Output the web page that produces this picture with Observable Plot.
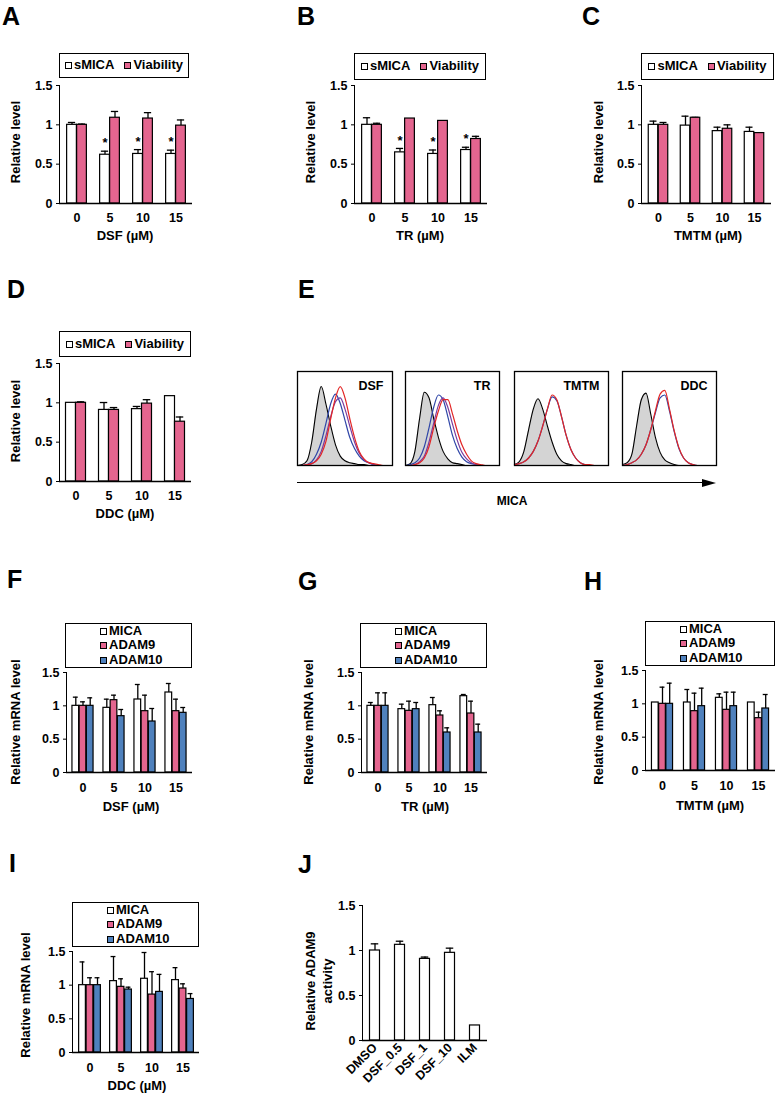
<!DOCTYPE html>
<html><head><meta charset="utf-8">
<script src="https://cdn.jsdelivr.net/npm/d3@7"></script>
<script src="https://cdn.jsdelivr.net/npm/@observablehq/plot@0.6"></script>
<style>
body{margin:0;background:#fff;}
#root{position:relative;width:777px;height:1095px;overflow:hidden;font-family:"Liberation Sans",Arial,sans-serif;font-weight:bold;color:#000;background:#fff;}
.t{position:absolute;white-space:nowrap;line-height:1;}
.leg{position:absolute;border:1.3px solid #000;box-sizing:border-box;background:#fff;font-size:13px;display:flex;}
.item{display:flex;align-items:center;line-height:14.5px;}
.sw{display:inline-block;width:7px;height:7px;border:1.3px solid #000;box-sizing:border-box;margin-right:2px;}
</style></head>
<body><div id="root"></div>
<script>
// ---------- data ----------
const doses = ["0","5","10","15"];
const pink = "#e4658f", blue = "#4f81bd";

const A_sMICA = [1.00, 0.62, 0.63, 0.63], A_sMICA_err = [0.03, 0.045, 0.055, 0.048];
const A_viab  = [1.00, 1.09, 1.08, 0.99], A_viab_err  = [0.01, 0.08, 0.075, 0.072];
const A_star  = [false, true, true, true];

const B_sMICA = [1.00, 0.65, 0.63, 0.68], B_sMICA_err = [0.09, 0.05, 0.05, 0.035];
const B_viab  = [1.00, 1.08, 1.05, 0.82], B_viab_err  = [0.02, 0, 0, 0.034];
const B_star  = [false, true, true, true];

const C_sMICA = [1.00, 0.99, 0.92, 0.91], C_sMICA_err = [0.047, 0.12, 0.05, 0.06];
const C_viab  = [1.00, 1.09, 0.95, 0.895], C_viab_err = [0.03, 0.005, 0.05, 0];

const D_sMICA = [1.00, 0.91, 0.92, 1.085], D_sMICA_err = [0, 0.094, 0.034, 0];
const D_viab  = [1.00, 0.91, 0.99, 0.76], D_viab_err  = [0.013, 0.03, 0.05, 0.06];

const F_MICA = [1.00, 0.97, 1.095, 1.20], F_MICA_err = [0.13, 0.13, 0.225, 0.135];
const F_A9   = [1.00, 1.085, 0.92, 0.92], F_A9_err   = [0.06, 0.075, 0.24, 0.18];
const F_A10  = [1.00, 0.845, 0.765, 0.895], F_A10_err = [0.12, 0.10, 0.195, 0.08];

const G_MICA = [1.00, 0.95, 1.01, 1.145], G_MICA_err = [0.05, 0.075, 0.115, 0.025];
const G_A9   = [1.00, 0.925, 0.855, 0.885], G_A9_err  = [0.195, 0.145, 0.07, 0.185];
const G_A10  = [1.00, 0.95, 0.60, 0.60], G_A10_err    = [0.195, 0.10, 0.07, 0.125];

const H_MICA = [1.02, 1.02, 1.09, 1.02], H_MICA_err = [0, 0.195, 0.06, 0];
const H_A9   = [1.00, 0.89, 0.91, 0.785], H_A9_err  = [0.25, 0.27, 0.265, 0.09];
const H_A10  = [1.00, 0.965, 0.965, 0.93], H_A10_err = [0.31, 0.27, 0.21, 0.21];

const I_MICA = [1.00, 1.06, 1.095, 1.075], I_MICA_err = [0.345, 0.365, 0.39, 0.185];
const I_A9   = [1.00, 0.975, 0.86, 0.95], I_A9_err   = [0.11, 0.12, 0.34, 0.07];
const I_A10  = [1.00, 0.935, 0.90, 0.795], I_A10_err = [0.11, 0.035, 0.26, 0.08];

const J_cats = ["DMSO", "DSF_0.5", "DSF_1", "DSF_10", "ILM"];
const J_vals = [1.00, 1.063, 0.907, 0.974, 0.167];
const J_err  = [0.074, 0.04, 0.02, 0.052, 0];

// flow cytometry histograms (relative counts at MICA intensity bins)
const histX = [0,5,10,15,20,25,30,35,40,45,50,55,60,65,70,75,80,85,90,95,100];
const DSF_ctrl   = [0,0.01,0.05,0.25,0.6,0.84,0.65,0.42,0.22,0.1,0.05,0.03,0.02,0.01,0.01,0,0,0,0,0,0];
const DSF_blue   = [0,0,0.01,0.04,0.12,0.25,0.45,0.66,0.76,0.66,0.48,0.3,0.18,0.1,0.05,0.03,0.01,0,0,0,0];
const DSF_purple = [0,0,0.01,0.02,0.06,0.15,0.32,0.52,0.68,0.72,0.6,0.42,0.25,0.13,0.06,0.03,0.01,0,0,0,0];
const DSF_red    = [0,0,0.01,0.02,0.05,0.12,0.26,0.5,0.72,0.84,0.72,0.5,0.3,0.15,0.07,0.03,0.02,0.01,0,0,0];
const TR_ctrl    = [0,0.02,0.15,0.5,0.78,0.72,0.5,0.3,0.15,0.07,0.03,0.02,0.01,0,0,0,0,0,0,0,0];
const TR_blue    = [0,0.01,0.03,0.08,0.2,0.4,0.62,0.75,0.7,0.52,0.32,0.18,0.09,0.04,0.02,0.01,0,0,0,0,0];
const TR_purple  = [0,0,0.01,0.04,0.1,0.25,0.45,0.64,0.72,0.62,0.44,0.27,0.14,0.07,0.03,0.01,0,0,0,0,0];
const TR_red     = [0,0,0.01,0.03,0.08,0.2,0.4,0.58,0.7,0.7,0.55,0.37,0.22,0.12,0.05,0.02,0.01,0,0,0,0];
const TMTM_ctrl  = [0.01,0.04,0.15,0.38,0.6,0.71,0.6,0.42,0.25,0.12,0.05,0.02,0.01,0,0,0,0,0,0,0,0];
const TMTM_blue  = [0.01,0.02,0.04,0.08,0.15,0.26,0.42,0.6,0.73,0.69,0.52,0.32,0.17,0.08,0.03,0.01,0,0,0,0,0];
const TMTM_red   = [0.01,0.02,0.04,0.08,0.15,0.26,0.42,0.6,0.75,0.7,0.52,0.32,0.17,0.08,0.03,0.01,0.01,0,0,0,0];
const DDC_ctrl   = [0.01,0.03,0.12,0.42,0.7,0.77,0.55,0.3,0.14,0.06,0.03,0.01,0,0,0,0,0,0,0,0,0];
const DDC_blue   = [0,0.01,0.03,0.06,0.12,0.22,0.38,0.56,0.72,0.75,0.58,0.36,0.18,0.08,0.03,0.01,0,0,0,0,0];
const DDC_red    = [0,0.01,0.03,0.06,0.12,0.22,0.38,0.58,0.76,0.8,0.6,0.37,0.19,0.08,0.03,0.01,0,0,0,0,0];

// ---------- helpers ----------
const root = document.getElementById("root");
const FONT = "'Liberation Sans', Arial, sans-serif";
const baseStyle = {fontFamily: FONT, fontSize: "12.5px", fontWeight: "bold", color: "black", background: "transparent", overflow: "visible"};

function place(el, left, top) {
  el.style.position = "absolute"; el.style.left = left + "px"; el.style.top = top + "px";
  root.append(el);
}
function text(str, x, baseline, size, anchor) {
  const d = document.createElement("div"); d.className = "t"; d.textContent = str;
  d.style.fontSize = size + "px"; d.style.left = x + "px"; d.style.top = (baseline - 0.8465 * size) + "px";
  if (anchor === "middle") d.style.transform = "translateX(-50%)";
  if (anchor === "end") d.style.transform = "translateX(-100%)";
  root.append(d);
}
function vtext(str, cx, cy, size) {
  const d = document.createElement("div"); d.className = "t"; d.textContent = str;
  d.style.fontSize = size + "px"; d.style.left = cx + "px"; d.style.top = cy + "px";
  d.style.transform = "translate(-50%,-50%) rotate(-90deg)";
  root.append(d);
}
function legend(x0, y0, x1, y1, items, column, padLeft) {
  const d = document.createElement("div"); d.className = "leg";
  d.style.left = x0 + "px"; d.style.top = y0 + "px"; d.style.width = (x1 - x0) + "px"; d.style.height = (y1 - y0) + "px";
  if (column) { d.style.flexDirection = "column"; d.style.justifyContent = "center"; d.style.paddingLeft = padLeft + "px"; }
  else { d.style.justifyContent = "center"; d.style.alignItems = "center"; d.style.gap = "10px"; }
  for (const it of items) {
    const r = document.createElement("div"); r.className = "item";
    const s = document.createElement("span"); s.className = "sw"; s.style.background = it.color;
    r.append(s, document.createTextNode(it.label));
    d.append(r);
  }
  root.append(d);
}

function barPanel(p) {
  const mL = 42, mR = 8, mT = 8, mB = p.mB || 26;
  const W = p.x1 - p.x0, H = p.y0 - p.y15;
  const bw = W / p.cats.length;
  const cap = p.barW * 0.75;
  const marks = [];
  for (const s of p.series) {
    const rows = p.cats.map((c, i) => ({cat: c, v: s.values[i], e: s.errs[i], top: s.values[i] + s.errs[i], star: s.stars ? s.stars[i] : false}));
    const c = s.off + p.barW / 2;
    const withErr = rows.filter(d => d.e > 0);
    marks.push(Plot.ruleX(withErr, {x: "cat", y1: "v", y2: "top", dx: c, stroke: "black", strokeWidth: 1.3}));
    marks.push(Plot.tickY(withErr, {x: "cat", y: "top", insetLeft: bw / 2 + c - cap / 2, insetRight: bw / 2 - c - cap / 2, stroke: "black", strokeWidth: 1.3}));
    marks.push(Plot.barY(rows, {x: "cat", y: "v", fill: s.color, stroke: "black", strokeWidth: 1.2,
      insetLeft: bw / 2 + s.off, insetRight: bw / 2 - s.off - p.barW}));
    const starRows = rows.filter(d => d.star);
    if (starRows.length) marks.push(Plot.text(starRows, {x: "cat", y: "top", text: () => "*", dx: c, dy: -8, fontSize: 13}));
  }
  marks.push(Plot.ruleY([0], {stroke: "black", strokeWidth: 1.5}));
  const plot = Plot.plot({
    width: mL + W + mR, height: mT + H + mB,
    marginLeft: mL, marginRight: mR, marginTop: mT, marginBottom: mB,
    x: {domain: p.cats, padding: 0, tickSize: 0, tickPadding: p.tickPad || 10, label: null, tickRotate: p.rotate || 0},
    y: {domain: [0, 1.5], ticks: [0, 0.5, 1, 1.5], tickFormat: d => String(d), tickSize: 3, tickPadding: 4, line: true, label: null},
    style: baseStyle,
    marks
  });
  place(plot, p.x0 - mL, p.y15 - mT);
}

function two(a, ae, b, be, stars) {
  return [
    {values: a, errs: ae, color: "white", off: -10, stars},
    {values: b, errs: be, color: pink, off: 0}
  ];
}
function three(a, ae, b, be, c, ce, w) {
  return [
    {values: a, errs: ae, color: "white", off: -1.5 * w},
    {values: b, errs: be, color: pink, off: -0.5 * w},
    {values: c, errs: ce, color: blue, off: 0.5 * w}
  ];
}

// ---------- panel letters ----------
[["A",2,25],["B",297,25],["C",582,25],["D",7,298],["E",298,298],["F",7,588],["G",298,590],["H",584,590],["I",9,872],["J",298,873]]
  .forEach(([l, x, b]) => text(l, x, b, 25));

// ---------- A–D ----------
const legSV = [{label: "sMICA", color: "white"}, {label: "Viability", color: pink}];
barPanel({x0: 59, x1: 192, y15: 85, y0: 203, cats: doses, barW: 10, series: two(A_sMICA, A_sMICA_err, A_viab, A_viab_err, A_star)});
legend(59, 53, 189, 78, legSV);
vtext("Relative level", 15, 142, 13); text("DSF (µM)", 125, 240, 13, "middle");

barPanel({x0: 354, x1: 487, y15: 85, y0: 203, cats: doses, barW: 10, series: two(B_sMICA, B_sMICA_err, B_viab, B_viab_err, B_star)});
legend(354, 53, 486, 80, legSV);
vtext("Relative level", 310, 142, 13); text("TR (µM)", 420, 240, 13, "middle");

barPanel({x0: 641, x1: 771, y15: 85, y0: 203, cats: doses, barW: 10, series: two(C_sMICA, C_sMICA_err, C_viab, C_viab_err)});
legend(641, 53, 774, 80, legSV);
vtext("Relative level", 598, 142, 13); text("TMTM (µM)", 708, 240, 13, "middle");

barPanel({x0: 59, x1: 191, y15: 363, y0: 481, cats: doses, barW: 10, series: two(D_sMICA, D_sMICA_err, D_viab, D_viab_err)});
legend(59, 331, 191, 357, legSV);
vtext("Relative level", 15, 421, 13); text("DDC (µM)", 125, 518, 13, "middle");

// ---------- E: histograms ----------
function histPanel(x0, y0, w, h, label, curves) {
  const rowsOf = arr => histX.map((x, i) => ({x, y: arr[i]}));
  const marks = [
    Plot.areaY(rowsOf(curves.ctrl), {x: "x", y: "y", fill: "#d4d4d4", curve: "monotone-x"}),
    Plot.lineY(rowsOf(curves.ctrl), {x: "x", y: "y", stroke: "black", strokeWidth: 1.1, curve: "monotone-x"})
  ];
  for (const [arr, col] of curves.others) marks.push(Plot.lineY(rowsOf(arr), {x: "x", y: "y", stroke: col, strokeWidth: 1.2, curve: "monotone-x"}));
  marks.push(Plot.frame({stroke: "black", strokeWidth: 1.3}));
  marks.push(Plot.text([label], {frameAnchor: "top-right", textAnchor: "end", lineAnchor: "top", dx: -9, dy: 10, text: d => d, fontSize: 12.5}));
  const plot = Plot.plot({width: w, height: h, margin: 0, x: {domain: [0, 100], axis: null}, y: {domain: [0, 1], axis: null}, style: baseStyle, marks});
  place(plot, x0, y0);
}
const cBlue = "#2f46a8", cPurple = "#7b3c9e", cRed = "#e32626";
histPanel(297, 371, 95, 94, "DSF", {ctrl: DSF_ctrl, others: [[DSF_blue, cBlue], [DSF_purple, cPurple], [DSF_red, cRed]]});
histPanel(405, 371, 94, 94, "TR", {ctrl: TR_ctrl, others: [[TR_blue, cBlue], [TR_purple, cPurple], [TR_red, cRed]]});
histPanel(514, 371, 94, 94, "TMTM", {ctrl: TMTM_ctrl, others: [[TMTM_blue, cBlue], [TMTM_red, cRed]]});
histPanel(622, 371, 94, 94, "DDC", {ctrl: DDC_ctrl, others: [[DDC_blue, cBlue], [DDC_red, cRed]]});
// arrow
(function () {
  const line = document.createElement("div");
  line.style.cssText = "position:absolute;left:297px;top:482px;width:406px;height:1.4px;background:#000;";
  root.append(line);
  const head = document.createElement("div");
  head.style.cssText = "position:absolute;left:702px;top:478.5px;width:0;height:0;border-left:14px solid #000;border-top:4.2px solid transparent;border-bottom:4.2px solid transparent;";
  root.append(head);
})();
text("MICA", 512, 505, 12, "middle");

// ---------- F–I ----------
const legMAA = [{label: "MICA", color: "white"}, {label: "ADAM9", color: pink}, {label: "ADAM10", color: blue}];
barPanel({x0: 66, x1: 192, y15: 672, y0: 772, cats: doses, barW: 7.2, tickPad: 11, series: three(F_MICA, F_MICA_err, F_A9, F_A9_err, F_A10, F_A10_err, 7.2)});
legend(65, 623, 192, 668, legMAA, true, 34);
vtext("Relative mRNA level", 15, 722, 13); text("DSF (µM)", 131, 811, 13, "middle");

barPanel({x0: 361, x1: 487, y15: 672, y0: 772, cats: doses, barW: 7.2, tickPad: 11, series: three(G_MICA, G_MICA_err, G_A9, G_A9_err, G_A10, G_A10_err, 7.2)});
legend(360, 623, 487, 668, legMAA, true, 34);
vtext("Relative mRNA level", 308, 722, 13); text("TR (µM)", 425, 811, 13, "middle");

barPanel({x0: 645, x1: 775, y15: 670, y0: 770, cats: doses, barW: 7.2, tickPad: 11, series: three(H_MICA, H_MICA_err, H_A9, H_A9_err, H_A10, H_A10_err, 7.2)});
legend(645, 621, 775, 666, legMAA, true, 34);
vtext("Relative mRNA level", 598, 722, 13); text("TMTM (µM)", 710, 810, 13, "middle");

barPanel({x0: 72, x1: 199, y15: 951, y0: 1052, cats: doses, barW: 7.5, tickPad: 11, series: three(I_MICA, I_MICA_err, I_A9, I_A9_err, I_A10, I_A10_err, 7.5)});
legend(72, 902, 199, 947, legMAA, true, 34);
vtext("Relative mRNA level", 25, 995, 13); text("DDC (µM)", 137, 1090, 13, "middle");

// ---------- J ----------
barPanel({x0: 362, x1: 487, y15: 905, y0: 1040, cats: J_cats, barW: 10, mB: 60, rotate: -45, tickPad: 5,
  series: [{values: J_vals, errs: J_err, color: "white", off: -5}]});
vtext("Relative ADAM9", 310, 981, 13);
vtext("activity", 327, 981, 13);
</script>
</body></html>
